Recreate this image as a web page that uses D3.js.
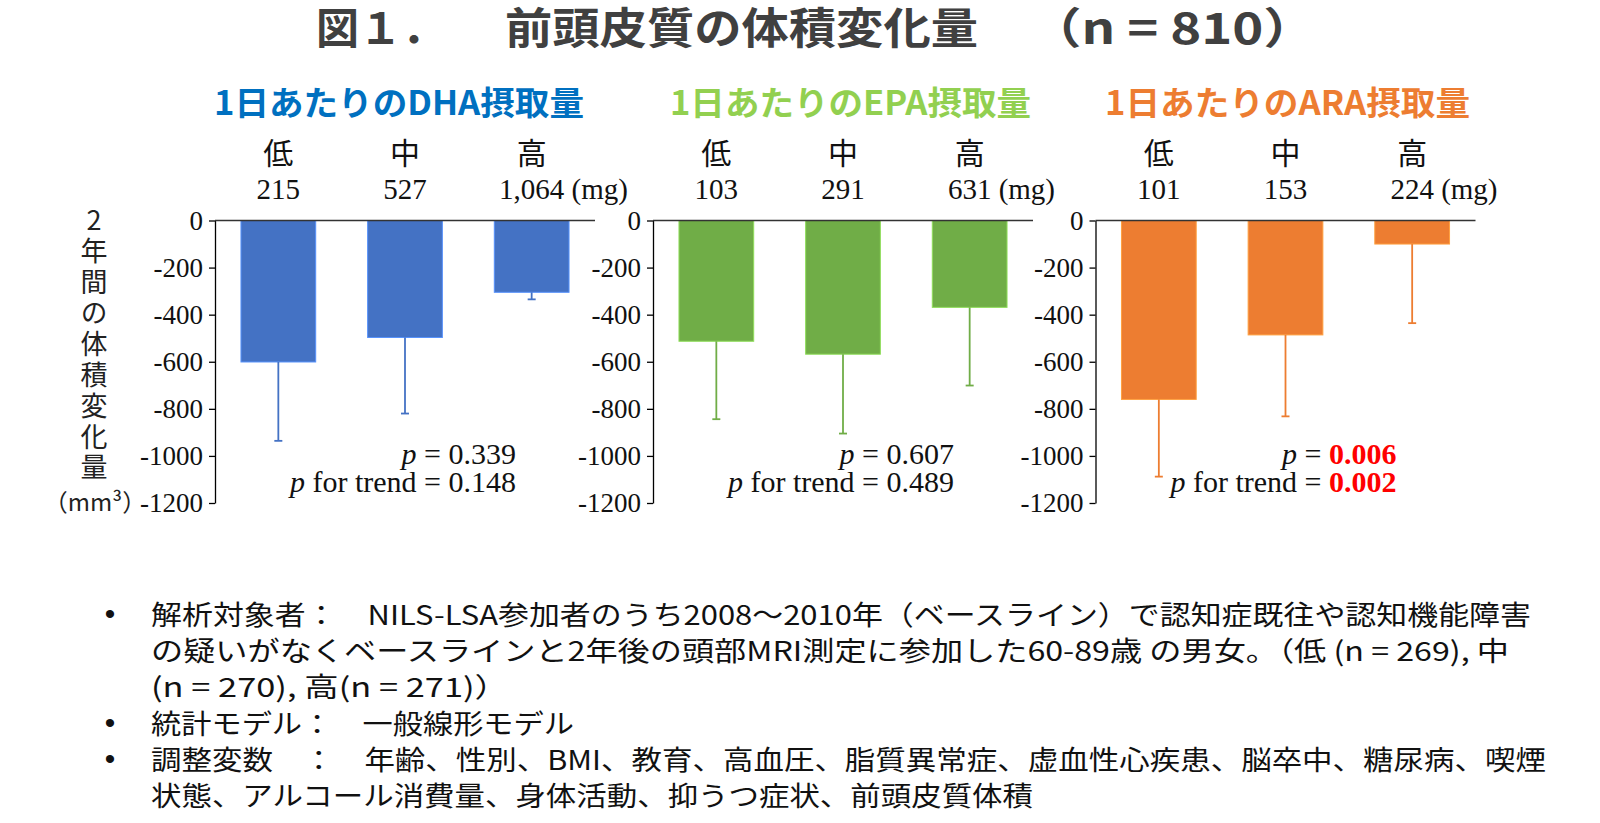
<!DOCTYPE html>
<html><head><meta charset="utf-8">
<script src="https://cdn.jsdelivr.net/npm/d3@7"></script>
<style>body{margin:0;background:#fff;overflow:hidden}</style>
</head><body>
<svg id="c" width="1600" height="823"></svg>
<script>
// ---------- data ----------
const categories = ["低", "中", "高"];
const headings = ["1日あたりのDHA摂取量", "1日あたりのEPA摂取量", "1日あたりのARA摂取量"];
const headingColors = ["#0070C0", "#92D050", "#ED7D31"];
const barColors = ["#4472C4", "#70AD47", "#ED7D31"];
const dhaIntake = ["215", "527", "1,064"];
const epaIntake = ["103", "291", "631"];
const araIntake = ["101", "153", "224"];
const dhaValues = [-601, -497, -305];
const epaValues = [-513, -568, -369];
const araValues = [-760, -486, -100];
const dhaErrors = [335, 323, 30];
const epaErrors = [331, 337, 332];
const araErrors = [328, 346, 336];
const yTicks = [0, -200, -400, -600, -800, -1000, -1200];
const pValues = ["0.339", "0.607", "0.006"];
const pTrends = ["0.148", "0.489", "0.002"];
const significant = [false, false, true];
const yTitle = "2年間の体積変化量";
const yUnit = "（mm³）";
const bulletLines = [
  {bullet: true,  text: "解析対象者：　NILS-LSA参加者のうち2008～2010年（ベースライン）で認知症既往や認知機能障害", w: 1380},
  {bullet: false, text: "の疑いがなくベースラインと2年後の頭部MRI測定に参加した60-89歳 の男女。（低 (n = 269), 中", w: 1358},
  {bullet: false, text: "(n = 270), 高(n = 271)）", w: 358},
  {bullet: true,  text: "統計モデル：　一般線形モデル", w: 423},
  {bullet: true,  text: "調整変数　：　年齢、性別、BMI、教育、高血圧、脂質異常症、虚血性心疾患、脳卒中、糖尿病、喫煙", w: 1395},
  {bullet: false, text: "状態、アルコール消費量、身体活動、抑うつ症状、前頭皮質体積", w: 882}
];

const panels = [
  {heading: headings[0], intake: dhaIntake, values: dhaValues, errors: dhaErrors},
  {heading: headings[1], intake: epaIntake, values: epaValues, errors: epaErrors},
  {heading: headings[2], intake: araIntake, values: araValues, errors: araErrors}
];

// ---------- layout ----------
const svg = d3.select("#c");
const SANS = "'Noto Sans CJK JP', 'Noto Sans', sans-serif";
const SERIF = "'Liberation Serif', 'Times New Roman', serif";
const panelLeft = [215, 653, 1095.5];
const panelW = 380;
const plotTop = 220.5, plotBottom = 503;
const headingBox = [[214, 370], [670, 361], [1105, 365]];

const y = d3.scaleLinear().domain([0, -1200]).range([plotTop, plotBottom]);

// title
const titleY = 25;
svg.append("text").attr("x", 316).attr("y", titleY).attr("dominant-baseline", "central")
  .attr("font-family", SANS).attr("font-weight", 700).attr("font-size", 43).attr("fill", "#404040")
  .text("図１．");
svg.append("text").attr("x", 505).attr("y", titleY).attr("dominant-baseline", "central")
  .attr("font-family", SANS).attr("font-weight", 700).attr("font-size", 43).attr("fill", "#404040")
  .attr("textLength", 473).attr("lengthAdjust", "spacingAndGlyphs")
  .text("前頭皮質の体積変化量");
svg.append("text").attr("x", 1029).attr("y", titleY).attr("dominant-baseline", "central")
  .attr("font-family", SANS).attr("font-weight", 700).attr("font-size", 43).attr("fill", "#404040")
  .attr("textLength", 287).attr("lengthAdjust", "spacingAndGlyphs")
  .text("（n = 810）");

panels.forEach((p, i) => {
  const L = panelLeft[i];
  const g = svg.append("g");
  const x = d3.scaleBand().domain(categories).range([L, L + panelW])
    .paddingInner(0.41).paddingOuter(0.205);

  // heading
  g.append("text").attr("x", headingBox[i][0]).attr("y", 101).attr("dominant-baseline", "central")
    .attr("font-family", SANS).attr("font-weight", 700).attr("font-size", 33)
    .attr("fill", headingColors[i])
    .attr("textLength", headingBox[i][1]).attr("lengthAdjust", "spacingAndGlyphs")
    .text(p.heading);

  // category labels
  g.selectAll(".cat").data(categories).join("text")
    .attr("x", d => x(d) + x.bandwidth() / 2).attr("y", 151)
    .attr("text-anchor", "middle").attr("dominant-baseline", "central")
    .attr("font-family", SANS).attr("font-size", 30).attr("fill", "#111")
    .text(d => d);

  // intake labels
  p.intake.forEach((v, j) => {
    const cx = x(categories[j]) + x.bandwidth() / 2;
    const t = g.append("text").attr("y", 199)
      .attr("font-family", SERIF).attr("font-size", 29).attr("fill", "#111").text(v);
    const w = t.node().getComputedTextLength();
    t.attr("x", cx - w / 2);
    if (j === 2) t.text(v + " (mg)");
  });

  // bars
  g.selectAll(".bar").data(p.values).join("rect")
    .attr("x", (d, j) => x(categories[j]))
    .attr("y", y(0))
    .attr("width", x.bandwidth())
    .attr("height", d => y(d) - y(0))
    .attr("fill", barColors[i])
    .attr("stroke", d3.color(barColors[i]).brighter(0.7))
    .attr("stroke-width", 1);

  // error bars (downward only)
  p.values.forEach((v, j) => {
    const cx = x(categories[j]) + x.bandwidth() / 2;
    const lo = v - p.errors[j];
    g.append("line").attr("x1", cx).attr("x2", cx).attr("y1", y(v)).attr("y2", y(lo))
      .attr("stroke", barColors[i]).attr("stroke-width", 1.8);
    g.append("line").attr("x1", cx - 4).attr("x2", cx + 4).attr("y1", y(lo)).attr("y2", y(lo))
      .attr("stroke", barColors[i]).attr("stroke-width", 1.8);
  });

  // y axis
  const ax = g.append("g").attr("transform", `translate(${L},0)`)
    .call(d3.axisLeft(y).tickValues(yTicks).tickSize(6).tickSizeOuter(0).tickPadding(6).tickFormat(d3.format("d")));
  ax.select(".domain").attr("stroke", "#000").attr("stroke-width", 1.3);
  ax.selectAll(".tick line").attr("stroke", "#000").attr("stroke-width", 1.3);
  ax.selectAll(".tick text").attr("font-family", SERIF).attr("font-size", 27).attr("fill", "#111")
    .text(d => d === 0 ? "0" : "-" + Math.abs(d));

  // zero line
  g.append("line").attr("x1", L).attr("x2", L + panelW).attr("y1", y(0)).attr("y2", y(0))
    .attr("stroke", "#333").attr("stroke-width", 1.4);

  // p values
  const rx = L + 301;
  const t1 = g.append("text").attr("x", rx).attr("y", 464).attr("text-anchor", "end")
    .attr("font-family", SERIF).attr("font-size", 30).attr("fill", "#111");
  t1.append("tspan").attr("font-style", "italic").text("p");
  t1.append("tspan").text(" = ");
  t1.append("tspan").attr("fill", significant[i] ? "#FF0000" : "#111")
    .attr("font-weight", significant[i] ? 700 : 400).text(pValues[i]);
  const t2 = g.append("text").attr("x", rx).attr("y", 492).attr("text-anchor", "end")
    .attr("font-family", SERIF).attr("font-size", 30).attr("fill", "#111");
  t2.append("tspan").attr("font-style", "italic").text("p");
  t2.append("tspan").text(" for trend = ");
  t2.append("tspan").attr("fill", significant[i] ? "#FF0000" : "#111")
    .attr("font-weight", significant[i] ? 700 : 400).text(pTrends[i]);
});

// y-axis title (vertical writing, one text element)
svg.append("text").attr("x", 94).attr("y", 206.5)
  .attr("style", "writing-mode: vertical-rl; text-orientation: upright; letter-spacing: 3.9px")
  .attr("font-family", SANS).attr("font-size", 27).attr("fill", "#222")
  .text(yTitle);
svg.append("text").attr("x", 95).attr("y", 500).attr("text-anchor", "middle").attr("dominant-baseline", "central")
  .attr("font-family", SANS).attr("font-size", 24).attr("fill", "#222").text(yUnit);

// notes
const lineYs = [613, 649, 685, 722, 758, 794];
bulletLines.forEach((ln, k) => {
  if (ln.bullet) {
    svg.append("text").attr("x", 110).attr("y", lineYs[k]).attr("text-anchor", "middle")
      .attr("dominant-baseline", "central").attr("font-family", "'Liberation Sans', Arial, sans-serif").attr("font-size", 30)
      .attr("fill", "#111").text("•");
  }
  svg.append("text").attr("x", 151).attr("y", lineYs[k]).attr("dominant-baseline", "central")
    .attr("font-family", SANS).attr("font-size", 27).attr("fill", "#111")
    .attr("textLength", ln.w).attr("lengthAdjust", "spacingAndGlyphs")
    .text(ln.text);
});
</script>
</body></html>
